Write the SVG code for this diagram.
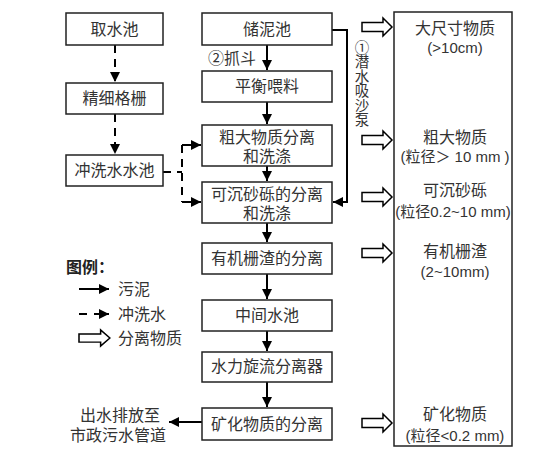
<svg xmlns="http://www.w3.org/2000/svg" width="550" height="453" viewBox="0 0 550 453">
<defs>
<style>
.box{fill:#fff;stroke:#222;stroke-width:1.5}
.t{font-family:"Liberation Sans","Noto Sans CJK SC",sans-serif;font-size:16px;fill:#333;text-anchor:middle}
.s{font-size:15px}
.l{font-family:"Liberation Sans","Noto Sans CJK SC",sans-serif;font-size:16px;fill:#333}
.v{font-family:"Noto Sans CJK SC","Liberation Sans",sans-serif;font-size:14.5px;fill:#333;writing-mode:vertical-rl;text-orientation:upright}
.solid{fill:none;stroke:#000;stroke-width:2}
.dash{fill:none;stroke:#000;stroke-width:2;stroke-dasharray:8 6}
.hollow{fill:#fff;stroke:#000;stroke-width:1.5}
</style>
<marker id="ah" viewBox="0 0 10 10" refX="10" refY="5" markerWidth="5" markerHeight="5" markerUnits="strokeWidth" orient="auto">
<path d="M0,0 L10,5 L0,10 z" fill="#000"/>
</marker>
<path id="ha" d="M0,-4.5 L21,-4.5 L21,-9 L30,0 L21,9 L21,4.5 L0,4.5 z"/>
</defs>

<g id="connectors">
<path class="dash" d="M115,45 V82" marker-end="url(#ah)"/>
<path class="dash" d="M115,114 V154" marker-end="url(#ah)"/>
<path class="dash" d="M163,172 H182"/>
<path class="dash" d="M182,145 V202"/>
<path class="solid" d="M182,145 H201" marker-end="url(#ah)"/>
<path class="solid" d="M182,202 H201" marker-end="url(#ah)"/>
<path class="solid" d="M267,45 V70" marker-end="url(#ah)"/>
<path class="solid" d="M267,102 V124" marker-end="url(#ah)"/>
<path class="solid" d="M267,166 V181" marker-end="url(#ah)"/>
<path class="solid" d="M267,223 V242" marker-end="url(#ah)"/>
<path class="solid" d="M267,274 V299" marker-end="url(#ah)"/>
<path class="solid" d="M267,331 V351" marker-end="url(#ah)"/>
<path class="solid" d="M267,382 V407" marker-end="url(#ah)"/>
<path class="solid" d="M332,30 H347 V202 H333" marker-end="url(#ah)"/>
<path class="solid" d="M202,422 H169" marker-end="url(#ah)"/>
<use href="#ha" class="hollow" x="362" y="27"/>
<use href="#ha" class="hollow" x="362" y="140"/>
<use href="#ha" class="hollow" x="362" y="197"/>
<use href="#ha" class="hollow" x="362" y="253"/>
<use href="#ha" class="hollow" x="362" y="423"/>
</g>

<g id="n-qushuichi"><rect class="box" x="66" y="13" width="97" height="32"/><text class="t" x="114.5" y="35">取水池</text></g>
<g id="n-jingxigeshan"><rect class="box" x="66" y="83" width="97" height="31"/><text class="t" x="114.5" y="104">精细格栅</text></g>
<g id="n-chongxishuichi"><rect class="box" x="66" y="155" width="97" height="31"/><text class="t" x="114.5" y="176">冲洗水水池</text></g>

<g id="n-chunichi"><rect class="box" x="202" y="13" width="130" height="32"/><text class="t" x="267" y="35">储泥池</text></g>
<g id="n-pinghengweiliao"><rect class="box" x="202" y="71" width="130" height="31"/><text class="t" x="267" y="92">平衡喂料</text></g>
<g id="n-cuda"><rect class="box" x="202" y="125" width="130" height="41"/><text class="t" x="267" y="143">粗大物质分离<tspan x="267" y="162">和洗涤</tspan></text></g>
<g id="n-kechen"><rect class="box" x="202" y="182" width="130" height="41"/><text class="t" x="267" y="200">可沉砂砾的分离<tspan x="267" y="219">和洗涤</tspan></text></g>
<g id="n-youji"><rect class="box" x="202" y="243" width="130" height="31"/><text class="t" x="267" y="264">有机栅渣的分离</text></g>
<g id="n-zhongjian"><rect class="box" x="202" y="300" width="130" height="31"/><text class="t" x="267" y="321">中间水池</text></g>
<g id="n-xuanliu"><rect class="box" x="202" y="352" width="130" height="30"/><text class="t" x="267" y="372">水力旋流分离器</text></g>
<g id="n-kuanghua"><rect class="box" x="202" y="408" width="130" height="32"/><text class="t" x="267" y="430">矿化物质的分离</text></g>

<g id="n-output">
<rect class="box" x="394" y="12" width="118" height="434"/>
<text class="t" x="455" y="34">大尺寸物质<tspan class="s" x="455" y="53">(&gt;10cm)</tspan></text>
<text class="t" x="455" y="143">粗大物质<tspan class="s" x="455" y="162">(粒径＞ 10 mm )</tspan></text>
<text class="t" x="455" y="196">可沉砂砾<tspan class="s" x="453" y="217">(粒径0.2~10 mm)</tspan></text>
<text class="t" x="455" y="257">有机栅渣<tspan class="s" x="455" y="277">(2~10mm)</tspan></text>
<text class="t" x="455" y="420">矿化物质<tspan class="s" x="455" y="441">(粒径&lt;0.2 mm)</tspan></text>
</g>

<g id="n-outlet">
<text class="t" x="120" y="421">出水排放至<tspan x="118" y="441">市政污水管道</tspan></text>
</g>

<g id="labels">
<text class="l" x="208" y="64">②抓斗</text>
<text class="v" x="362" y="40">①潜水吸沙泵</text>
</g>

<g id="legend">
<text class="l" x="66" y="273" style="font-weight:bold;fill:#222">图例：</text>
<path class="solid" d="M79,289 H109" marker-end="url(#ah)"/>
<text class="l" x="118" y="295">污泥</text>
<path class="solid" d="M79,314 H87"/>
<path class="solid" d="M94,314 H109" marker-end="url(#ah)"/>
<text class="l" x="118" y="320">冲洗水</text>
<use href="#ha" class="hollow" x="79" y="338" transform="translate(79,338) scale(1.03,0.9) translate(-79,-338)"/>
<text class="l" x="118" y="344">分离物质</text>
</g>
</svg>
